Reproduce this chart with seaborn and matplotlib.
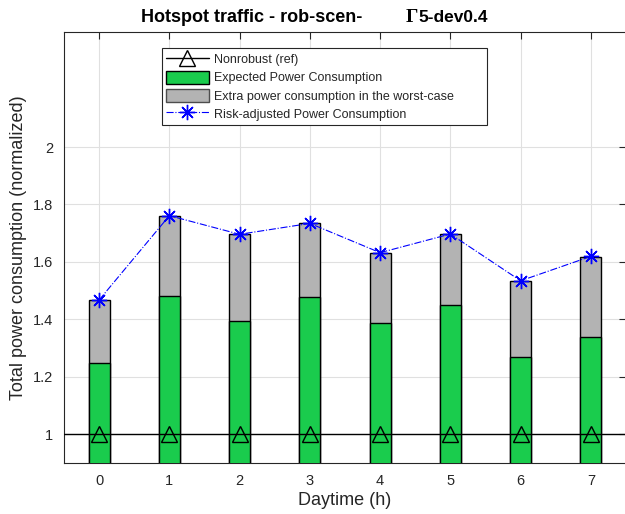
import matplotlib
matplotlib.use("Agg")
import matplotlib.pyplot as plt
from matplotlib.lines import Line2D
from matplotlib.patches import Patch
import seaborn as sns

# values
hours = [0, 1, 2, 3, 4, 5, 6, 7]
expected = [1.246, 1.482, 1.395, 1.478, 1.388, 1.451, 1.267, 1.337]
worst_total = [1.467, 1.761, 1.696, 1.734, 1.630, 1.696, 1.534, 1.618]
risk_adjusted = [1.467, 1.761, 1.696, 1.734, 1.632, 1.697, 1.534, 1.619]
nonrobust = [1.0, 1.0, 1.0, 1.0, 1.0, 1.0, 1.0, 1.0]
yticks = [1.0, 1.2, 1.4, 1.6, 1.8, 2.0]
ytick_labels = ["1", "1.2", "1.4", "1.6", "1.8", "2"]

sns.set_style("white")
plt.rcParams["font.family"] = ["Liberation Sans", "DejaVu Sans"]

green = (0.1, 0.8, 0.3)
gray = (0.7, 0.7, 0.7)
axcol = (0.15, 0.15, 0.15)

fig = plt.figure(figsize=(6.25, 5.14), dpi=100)
ax = fig.add_axes([64 / 625, 1 - 462.7 / 514, 562 / 625, 430.4 / 514])

# stacked bars: worst-case total behind, expected in front
sns.barplot(x=hours, y=worst_total, color=gray, width=0.3, edgecolor="black",
            linewidth=1.0, saturation=1, ax=ax, zorder=2)
sns.barplot(x=hours, y=expected, color=green, width=0.3, edgecolor="black",
            linewidth=1.0, saturation=1, ax=ax, zorder=3)

# nonrobust reference
ax.axhline(1.0, color="black", lw=1.0, zorder=4)
sns.lineplot(x=hours, y=nonrobust, marker="^", markersize=11, linestyle="none",
             markerfacecolor="none", markeredgecolor="black", markeredgewidth=1.0,
             ax=ax, zorder=5)

# risk-adjusted
sns.lineplot(x=hours, y=risk_adjusted, color="blue", linestyle="-.", lw=0.8,
             marker=(8, 2, 0), markersize=11, markeredgecolor="blue",
             markeredgewidth=1.0, ax=ax, zorder=6)

ax.set_xlim(-0.5, 7.5)
ax.set_ylim(0.9, 2.4)
ax.set_xticks(hours)
ax.set_xticklabels([str(h) for h in hours])
ax.set_yticks(yticks)
ax.set_yticklabels(ytick_labels)
ax.grid(True, color=(0.88, 0.88, 0.88), lw=0.8, zorder=0)
ax.set_axisbelow(True)
ax.tick_params(direction="in", length=5, width=0.8, color=axcol, labelsize=10.5,
               labelcolor=axcol, top=True, right=True, pad=8)
for s in ax.spines.values():
    s.set_visible(True)
    s.set_color(axcol)
    s.set_linewidth(0.8)

ax.set_xlabel("Daytime (h)", fontsize=13, color=axcol, labelpad=3)
ax.set_ylabel("Total power consumption (normalized)", fontsize=13, color=axcol,
              labelpad=4)

# title in pieces (Gamma drawn in a serif face)
ty = 1 - 17 / 514
fig.text(362 / 625, ty, "Hotspot traffic - rob-scen-", ha="right",
         va="center", fontsize=13, fontweight="bold", color="black")
fig.text(406 / 625, ty, "\u0393", ha="left", va="center", fontsize=14,
         fontweight="bold", family="Liberation Serif", color="black")
fig.text(418 / 625, ty, "5-dev0.4", ha="left", va="center",
         fontsize=12.5, fontweight="bold", color="black")

handles = [
    Line2D([], [], color="black", lw=1.0, marker="^", markersize=11,
           markerfacecolor="none", markeredgecolor="black"),
    Patch(facecolor=green, edgecolor="black", lw=1.0),
    Patch(facecolor=gray, edgecolor=(0.3, 0.3, 0.3), lw=1.0),
    Line2D([], [], color="blue", lw=0.8, linestyle="-.", marker=(8, 2, 0),
           markersize=11, markeredgecolor="blue"),
]
labels = ["Nonrobust (ref)", "Expected Power Consumption",
          "Extra power consumption in the worst-case",
          "Risk-adjusted Power Consumption"]
lx0 = (161.7 - 64) / 562
lw = (486.7 - 161.7) / 562
ly0 = (462.7 - 122.7) / 430.4
lh = (122.7 - 48.3) / 430.4
leg = ax.legend(handles, labels, loc="upper left", mode="expand",
                bbox_to_anchor=(lx0, ly0, lw, lh),
                borderaxespad=0, fontsize=9, frameon=True, fancybox=False,
                framealpha=1, edgecolor=axcol, handlelength=3.4,
                handleheight=1.2, labelspacing=0.36, borderpad=0.35,
                handletextpad=0.4)
leg.get_frame().set_linewidth(0.8)
for t in leg.get_texts():
    t.set_color(axcol)

fig.savefig("out.png", dpi=100)
